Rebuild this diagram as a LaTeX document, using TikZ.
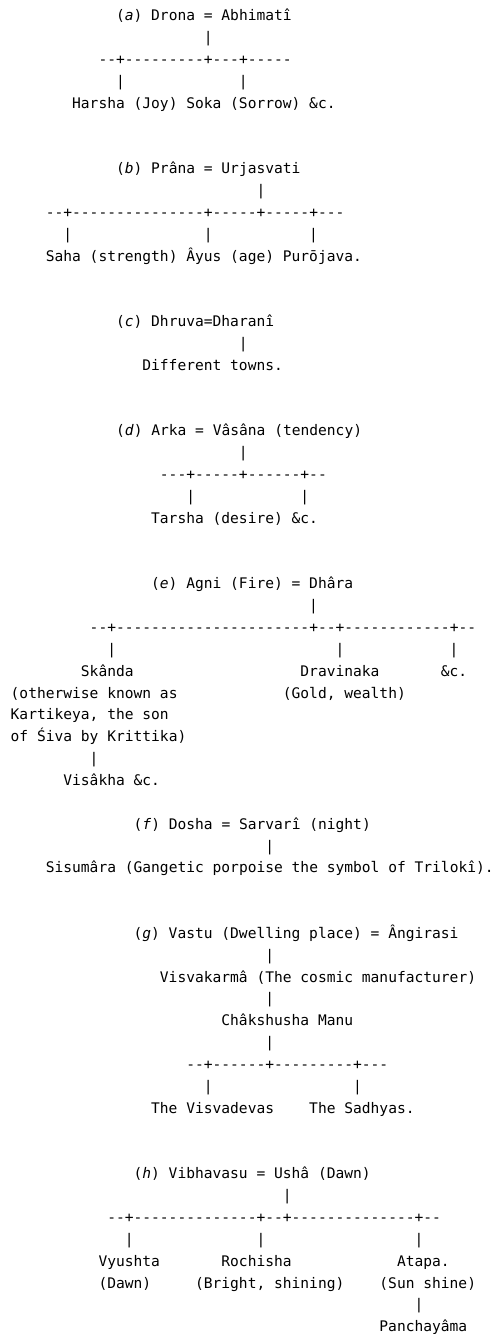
\documentclass[tikz,border=0pt]{standalone}
\usepackage{fontspec}
\setmonofont{DejaVu Sans Mono}
\begin{document}
\begin{tikzpicture}[x=6.585pt, y=-16.3875pt,
    every node/.style={anchor=base west, inner sep=0pt, outer sep=0pt,
      font=\ttfamily\fontsize{10.94pt}{13pt}\selectfont, text=textColour}]
    \definecolor{textColour}{HTML}{000000}

    % Page size of the reference
    \useasboundingbox (0pt,0pt) rectangle (369.75pt,-1000.5pt);

    \begin{scope}[shift={(8.025pt,-15.525pt)}]
    % one unit = one character column, one row = one text line

    % Block (a)
    \node (a-head) at (12,0) {(\textit{a}) Drona = Abhimatî};
    \node (a-bar) at (22,1) {|};
    \node (a-rule) at (10,2) {--+---------+---+-----};
    \foreach \c in {12,26}
        \node (a-bar-\c) at (\c,3) {|};
    \node (a-harsha) at (7,4) {Harsha (Joy)};
    \node (a-soka) at (20,4) {Soka (Sorrow)};
    \node (a-etc) at (34,4) {\&c.};

    % Block (b)
    \node (b-head) at (12,7) {(\textit{b}) Prâna = Urjasvati};
    \node (b-bar) at (28,8) {|};
    \node (b-rule) at (4,9) {--+---------------+-----+-----+---};
    \foreach \c in {6,22,34}
        \node (b-bar-\c) at (\c,10) {|};
    \node (b-saha) at (4,11) {Saha (strength)};
    \node (b-ayus) at (20,11) {Âyus (age)};
    \node (b-purojava) at (31,11) {Purōjava.};

    % Block (c)
    \node (c-head) at (12,14) {(\textit{c}) Dhruva=Dharanî};
    \node (c-bar) at (26,15) {|};
    \node (c-towns) at (15,16) {Different towns.};

    % Block (d)
    \node (d-head) at (12,19) {(\textit{d}) Arka = Vâsâna (tendency)};
    \node (d-bar) at (26,20) {|};
    \node (d-rule) at (17,21) {---+-----+------+--};
    \foreach \c in {20,33}
        \node (d-bar-\c) at (\c,22) {|};
    \node (d-tarsha) at (16,23) {Tarsha (desire) \&c.};

    % Block (e)
    \node (e-head) at (16,26) {(\textit{e}) Agni (Fire) = Dhâra};
    \node (e-bar) at (34,27) {|};
    \node (e-rule) at (9,28) {--+----------------------+--+------------+--};
    \foreach \c in {11,37,50}
        \node (e-bar-\c) at (\c,29) {|};
    \node (e-skanda) at (8,30) {Skânda};
    \node (e-dravinaka) at (33,30) {Dravinaka};
    \node (e-etc) at (49,30) {\&c.};
    \node (e-note-1) at (0,31) {(otherwise known as};
    \node (e-gold) at (31,31) {(Gold, wealth)};
    \node (e-note-2) at (0,32) {Kartikeya, the son};
    \node (e-note-3) at (0,33) {of Śiva by Krittika)};
    \node (e-bar-low) at (9,34) {|};
    \node (e-visakha) at (6,35) {Visâkha \&c.};

    % Block (f)
    \node (f-head) at (14,37) {(\textit{f}) Dosha = Sarvarî (night)};
    \node (f-bar) at (29,38) {|};
    \node (f-sisumara) at (4,39) {Sisumâra (Gangetic porpoise the symbol of Trilokî).};

    % Block (g)
    \node (g-head) at (14,42) {(\textit{g}) Vastu (Dwelling place) = Ângirasi};
    \node (g-bar-1) at (29,43) {|};
    \node (g-visvakarma) at (17,44) {Visvakarmâ (The cosmic manufacturer)};
    \node (g-bar-2) at (29,45) {|};
    \node (g-manu) at (24,46) {Châkshusha Manu};
    \node (g-bar-3) at (29,47) {|};
    \node (g-rule) at (20,48) {--+------+---------+---};
    \foreach \c in {22,39}
        \node (g-bar-\c) at (\c,49) {|};
    \node (g-visvadevas) at (16,50) {The Visvadevas};
    \node (g-sadhyas) at (34,50) {The Sadhyas.};

    % Block (h)
    \node (h-head) at (14,53) {(\textit{h}) Vibhavasu = Ushâ (Dawn)};
    \node (h-bar) at (31,54) {|};
    \node (h-rule) at (11,55) {--+--------------+--+--------------+--};
    \foreach \c in {13,28,46}
        \node (h-bar-\c) at (\c,56) {|};
    \node (h-vyushta) at (10,57) {Vyushta};
    \node (h-rochisha) at (24,57) {Rochisha};
    \node (h-atapa) at (44,57) {Atapa.};
    \node (h-dawn) at (10,58) {(Dawn)};
    \node (h-bright) at (21,58) {(Bright, shining)};
    \node (h-sun) at (42,58) {(Sun shine)};
    \node (h-bar-low) at (46,59) {|};
    \node (h-panchayama) at (42,60) {Panchayâma};
    \end{scope}

\end{tikzpicture}
\end{document}
